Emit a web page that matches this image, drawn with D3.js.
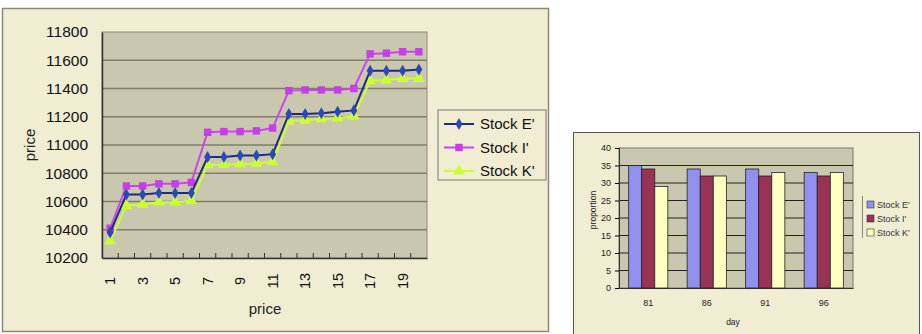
<!DOCTYPE html>
<html>
<head>
<meta charset="utf-8">
<script src="https://cdn.jsdelivr.net/npm/d3@7"></script>
<style>
  body { margin: 0; background: #ffffff; }
  svg { display: block; font-family: "Liberation Sans", Arial, sans-serif; }
</style>
</head>
<body>
<div id="chart"></div>
<script>
// line chart data (left)
var days = d3.range(1, 21);
var stockE = [10380, 10650, 10650, 10660, 10660, 10660, 10915, 10915, 10925, 10925, 10935,
              11220, 11220, 11225, 11235, 11245, 11525, 11525, 11525, 11535];
var stockI = [10410, 10710, 10710, 10725, 10725, 10735, 11090, 11095, 11095, 11100, 11120,
              11385, 11390, 11390, 11390, 11400, 11645, 11650, 11660, 11660];
var stockK = [10320, 10570, 10580, 10595, 10595, 10605, 10860, 10860, 10865, 10870, 10880,
              11170, 11175, 11185, 11190, 11205, 11455, 11460, 11470, 11470];
var priceTicks = [10200, 10400, 10600, 10800, 11000, 11200, 11400, 11600, 11800];

// bar chart data (right)
var barDays = ["81", "86", "91", "96"];
var propE = [35, 34, 34, 33];
var propI = [34, 32, 32, 32];
var propK = [29, 32, 33, 33];
var propTicks = [0, 5, 10, 15, 20, 25, 30, 35, 40];

var seriesNames = ["Stock E'", "Stock I'", "Stock K'"];

function init() {
    var svg = d3.select("#chart").append("svg")
        .attr("width", 922)
        .attr("height", 334);

    // ---------- left chart ----------
    svg.append("rect")
        .attr("x", 2.5).attr("y", 8.5)
        .attr("width", 546).attr("height", 323)
        .attr("fill", "#f0edd3")
        .attr("stroke", "#8a8a78").attr("stroke-width", 1.5);

    var left = 102, right = 427, top = 32, bottom = 258;
    var x = d3.scaleBand().domain(days).range([left, right]);
    var y = d3.scaleLinear().domain([10200, 11800]).range([bottom, top]);

    svg.append("rect")
        .attr("x", left).attr("y", top)
        .attr("width", right - left).attr("height", bottom - top)
        .attr("fill", "#c9c7ae")
        .attr("stroke", "#8c8c78");

    // gridlines
    svg.append("g").selectAll("line")
        .data(priceTicks.slice(1, -1))
        .enter().append("line")
        .attr("x1", left).attr("x2", right)
        .attr("y1", d => y(d)).attr("y2", d => y(d))
        .attr("stroke", "#7e7e6a").attr("stroke-width", 1.6);

    // y axis
    var yAxis = svg.append("g")
        .attr("transform", "translate(" + left + ",0)")
        .call(d3.axisLeft(y).tickValues(priceTicks).tickFormat(d3.format("d")).tickSize(0).tickPadding(14));
    yAxis.select(".domain").attr("stroke", "#333").attr("stroke-width", 1.5);
    yAxis.selectAll("text").attr("font-size", "15.5px").attr("fill", "#111");

    // x axis
    var xAxis = svg.append("g")
        .attr("transform", "translate(0," + bottom + ")")
        .call(d3.axisBottom(x).tickSize(0).tickFormat(d => d % 2 === 1 ? d : ""));
    xAxis.select(".domain").attr("stroke", "#333").attr("stroke-width", 1.5);
    xAxis.selectAll("text")
        .attr("font-size", "14.5px").attr("fill", "#111")
        .attr("transform", "translate(0,23) rotate(-90)")
        .attr("text-anchor", "middle")
        .attr("dy", "0.35em").attr("y", 0).attr("x", 0);

    // category tick marks between bands
    svg.append("g").selectAll("line")
        .data(days.slice(1))
        .enter().append("line")
        .attr("x1", d => x(d)).attr("x2", d => x(d))
        .attr("y1", bottom).attr("y2", bottom - 5)
        .attr("stroke", "#333");

    svg.append("text")
        .attr("x", 265).attr("y", 314)
        .attr("text-anchor", "middle")
        .attr("font-size", "15px").attr("fill", "#222")
        .text("price");
    svg.append("text")
        .attr("transform", "translate(35,145) rotate(-90)")
        .attr("text-anchor", "middle")
        .attr("font-size", "15px").attr("fill", "#222")
        .text("price");

    var lineSeries = [
        { values: stockE, line: "#1c2a80", fill: "#2c48b8", shape: d3.symbolDiamond, size: 42 },
        { values: stockI, line: "#cc44ee", fill: "#c43fe6", shape: d3.symbolSquare, size: 55 },
        { values: stockK, line: "#ccff33", fill: "#ccff33", shape: d3.symbolTriangle, size: 60 }
    ];
    var cx = d => x(d) + x.bandwidth() / 2;

    // draw K first, then I, then E on top
    [2, 1, 0].forEach(function (k) {
        var s = lineSeries[k];
        var line = d3.line().x((d, i) => cx(days[i])).y(d => y(d));
        svg.append("path")
            .datum(s.values)
            .attr("d", line)
            .attr("fill", "none")
            .attr("stroke", s.line)
            .attr("stroke-width", 2);
        svg.append("g").selectAll("path")
            .data(s.values)
            .enter().append("path")
            .attr("d", d3.symbol().type(s.shape).size(s.size))
            .attr("transform", (d, i) => "translate(" + cx(days[i]) + "," + y(d) + ")")
            .attr("fill", s.fill);
    });

    // legend
    var lg = svg.append("g").attr("transform", "translate(438,110)");
    lg.append("rect")
        .attr("width", 108).attr("height", 70)
        .attr("fill", "#f0edd3")
        .attr("stroke", "#777");
    lineSeries.forEach(function (s, i) {
        var yy = 14 + i * 23.5;
        lg.append("line")
            .attr("x1", 6).attr("x2", 36).attr("y1", yy).attr("y2", yy)
            .attr("stroke", s.line).attr("stroke-width", 2);
        lg.append("path")
            .attr("d", d3.symbol().type(s.shape).size(s.size))
            .attr("transform", "translate(21," + yy + ")")
            .attr("fill", s.fill);
        lg.append("text")
            .attr("x", 42).attr("y", yy).attr("dy", "0.36em")
            .attr("font-size", "15px").attr("fill", "#111")
            .text(seriesNames[i]);
    });

    // ---------- right chart ----------
    svg.append("rect")
        .attr("x", 573.5).attr("y", 132.5)
        .attr("width", 346).attr("height", 210)
        .attr("fill", "#f0edd3")
        .attr("stroke", "#555").attr("stroke-width", 1);

    var bl = 619, br = 853, bt = 148, bb = 288;
    var bx = d3.scaleBand().domain(barDays).range([bl, br]).paddingInner(0.33).paddingOuter(0.165);
    var bs = d3.scaleBand().domain([0, 1, 2]).range([0, bx.bandwidth()]);
    var by = d3.scaleLinear().domain([0, 40]).range([bb, bt]);

    svg.append("rect")
        .attr("x", bl).attr("y", bt)
        .attr("width", br - bl).attr("height", bb - bt)
        .attr("fill", "#c9c7ae")
        .attr("stroke", "#777");

    svg.append("g").selectAll("line")
        .data(propTicks.slice(1, -1))
        .enter().append("line")
        .attr("x1", bl).attr("x2", br)
        .attr("y1", d => by(d)).attr("y2", d => by(d))
        .attr("stroke", "#222").attr("stroke-width", 1);

    var byAxis = svg.append("g")
        .attr("transform", "translate(" + bl + ",0)")
        .call(d3.axisLeft(by).tickValues(propTicks).tickSize(4).tickPadding(4));
    byAxis.select(".domain").attr("stroke", "#333");
    byAxis.selectAll("text").attr("font-size", "9px").attr("fill", "#222");

    var bxAxis = svg.append("g")
        .attr("transform", "translate(0," + bb + ")")
        .call(d3.axisBottom(bx).tickSize(0).tickPadding(12));
    bxAxis.select(".domain").attr("stroke", "#333");
    bxAxis.selectAll("text").attr("font-size", "9px").attr("fill", "#222");

    svg.append("text")
        .attr("x", 733).attr("y", 325)
        .attr("text-anchor", "middle")
        .attr("font-size", "8.5px").attr("fill", "#222")
        .text("day");
    svg.append("text")
        .attr("transform", "translate(596,210) rotate(-90)")
        .attr("text-anchor", "middle")
        .attr("font-size", "8.5px").attr("fill", "#222")
        .text("proportion");

    var barColors = ["#9090ee", "#993355", "#ffffc0"];
    var barValues = [propE, propI, propK];
    barValues.forEach(function (vals, k) {
        svg.append("g").selectAll("rect")
            .data(vals)
            .enter().append("rect")
            .attr("x", (d, i) => bx(barDays[i]) + bs(k))
            .attr("y", d => by(d))
            .attr("width", bs.bandwidth())
            .attr("height", d => bb - by(d))
            .attr("fill", barColors[k])
            .attr("stroke", "#222").attr("stroke-width", 0.8);
    });

    var blg = svg.append("g").attr("transform", "translate(862,196)");
    blg.append("line")
        .attr("x1", 0.5).attr("x2", 0.5).attr("y1", 0).attr("y2", 42)
        .attr("stroke", "#888");
    seriesNames.forEach(function (name, i) {
        var yy = 9 + i * 14;
        blg.append("rect")
            .attr("x", 5).attr("y", yy - 4)
            .attr("width", 7).attr("height", 7)
            .attr("fill", barColors[i])
            .attr("stroke", "#333").attr("stroke-width", 0.6);
        blg.append("text")
            .attr("x", 15).attr("y", yy).attr("dy", "0.35em")
            .attr("font-size", "9px").attr("fill", "#333")
            .text(name);
    });
}
window.onload = init;
</script>
</body>
</html>
